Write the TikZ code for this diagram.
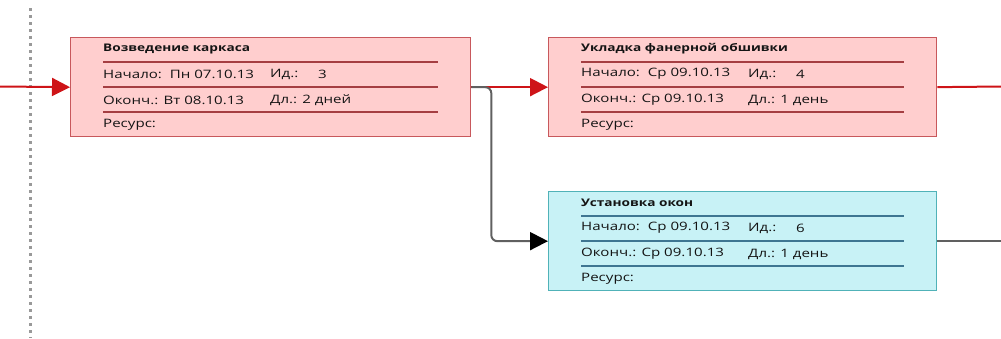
\documentclass[tikz,border=0pt]{standalone}
\usepackage{fontspec}
\setmainfont{Open Sans}[FakeStretch=1.3]
\usetikzlibrary{positioning,calc,arrows.meta}

\definecolor{redfill}{RGB}{255,206,206}
\definecolor{redline}{RGB}{200,88,92}
\definecolor{redrule}{RGB}{165,62,66}
\definecolor{cyanfill}{RGB}{200,242,246}
\definecolor{cyanline}{RGB}{80,178,184}
\definecolor{cyanrule}{RGB}{62,118,146}
\definecolor{linkred}{RGB}{206,20,24}
\definecolor{linkgray}{RGB}{96,96,96}
\definecolor{tasktext}{RGB}{20,20,20}

\tikzset{
  taskframe/.style={draw=#1line, fill=#1fill, line width=1.3pt, minimum height=99pt,
    inner sep=0pt, anchor=north west},
  rowline/.style={draw=#1rule, line width=1.4pt},
  tasktitle/.style={anchor=west, inner sep=0pt, text=tasktext, font=\fontsize{10.5}{12}\selectfont\bfseries},
  taskfield/.style={anchor=west, inner sep=0pt, text=tasktext, font=\fontsize{11.6}{13}\selectfont},
  critlink/.style={draw=linkred, line width=2pt, -{Triangle[length=18pt,width=18pt]}},
  plainlink/.style={draw=linkgray, line width=2pt, rounded corners=6pt,
    -{Triangle[length=18pt,width=18pt,color=black]}}
}

\newcommand{\taskbox}[9]{%
  \node[taskframe=#4, minimum width=#3] (#1) at (#2) {};
  \node[tasktitle] (#1-title) at ($(#1.north west)+(33,12)$) {#5};
  \foreach \r in {25,50,75}
    \draw[rowline=#4] ($(#1.north west)+(33,\r)$) -- ($(#1.north east)+(-33,\r)$);
  \node[taskfield] (#1-start) at ($(#1.north west)+(33,37)$) {Начало:~~#6};
  \node[taskfield] (#1-idl) at ($(#1.north west)+(200,37)$) {Ид.:};
  \node[taskfield] (#1-id) at ($(#1.north west)+(248,37)$) {#7};
  \node[taskfield] (#1-end) at ($(#1.north west)+(33,63)$) {Оконч.: #8};
  \node[taskfield] (#1-dur) at ($(#1.north west)+(200,63)$) {Дл.: #9};
  \node[taskfield] (#1-res) at ($(#1.north west)+(33,88)$) {Ресурс:};
}

\begin{document}
\begin{tikzpicture}[x=1pt,y=-1pt]
  \useasboundingbox (0,0) rectangle (1001,338);
  \draw[gray!80, line width=3pt, dash pattern=on 3pt off 4pt] (30,8) -- (30,338);

  \taskbox{frame}{70,37}{400}{red}{Возведение каркаса}{Пн 07.10.13}{3}{Вт 08.10.13}{2 дней}
  \taskbox{sheath}{548,37}{388}{red}{Укладка фанерной обшивки}{Ср 09.10.13}{4}{Ср 09.10.13}{1 день}
  \taskbox{windows}{548,191}{388}{cyan}{Установка окон}{Ср 09.10.13}{6}{Ср 09.10.13}{1 день}

  \coordinate (in) at (0,86.5);
  \coordinate (out) at (1001,86.5);
  \coordinate (out2) at ($(windows.east)+(65,0)$);

  \draw[critlink] (in) -- (frame.west);
  \draw[critlink] (frame.east) -- (sheath.west);
  \draw[draw=linkred, line width=2pt] (sheath.east) -- (out);
  \draw[plainlink] (frame.east) -- ++(20,0) |- (windows.west);
  \draw[draw=linkgray, line width=2pt] (windows.east) -- (out2);
\end{tikzpicture}
\end{document}
